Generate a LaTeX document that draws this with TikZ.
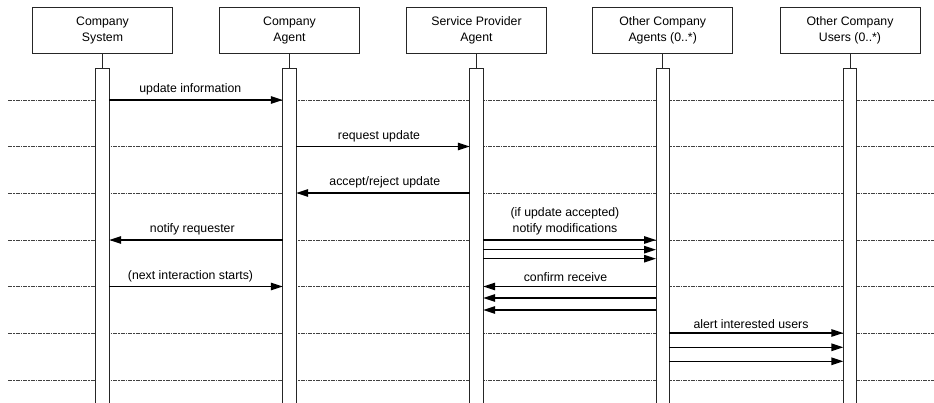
\documentclass[tikz,border=0pt]{standalone}
\usepackage{fontspec}
\setmainfont{Liberation Sans}
\usetikzlibrary{arrows.meta}

\tikzset{
  actor/.style={draw=black!85, line width=0.9pt, fill=white, minimum width=140pt,
    minimum height=46pt, inner sep=0pt, align=center,
    font=\fontsize{12.3}{16}\selectfont},
  barnode/.style={fill=white, minimum width=13pt, minimum height=340pt, inner sep=0pt,
    anchor=north},
  barline/.style={draw=black!85, line width=0.9pt},
  life/.style={draw=black!85, line width=0.9pt},
  sep/.style={draw=black!75, line width=0.8pt, dash pattern=on 4pt off 1pt on 1.5pt off 1pt},
  msg/.style={draw=black, line width=1.4pt, -{Triangle[length=12pt,width=7.5pt]}},
  lbl/.style={inner sep=0pt, align=center, font=\fontsize{12.3}{16}\selectfont},
}

\begin{document}
\begin{tikzpicture}[x=1pt,y=-1pt]
\useasboundingbox (0,0) rectangle (934,402);

% dash-dot separators behind the activation bars
\foreach \yy in {100,146.5,193,240,286.5,333,380}
  \draw[sep] (8,\yy) -- (934,\yy);

% participants
\node[actor] (p1) at (102.5,30) {Company\\System};
\node[actor] (p2) at (289.5,30) {Company\\Agent};
\node[actor] (p3) at (476.5,30) {Service Provider\\Agent};
\node[actor] (p4) at (662.7,30) {Other Company\\Agents (0..*)};
\node[actor] (p5) at (850,30) {Other Company\\Users (0..*)};

% activation bars, open at the bottom
\foreach \i/\cx in {1/102.5,2/289.5,3/476.5,4/662.7,5/850}{
  \node[barnode] (b\i) at (\cx,68) {};
  \draw[life] (p\i.south) -- (b\i.north);
  \draw[barline] (b\i.south west) -- (b\i.north west) -- (b\i.north east) -- (b\i.south east);
}

% messages
\draw[msg] (b1.east |- 0,100) -- (b2.west |- 0,100);
\node[lbl, anchor=south] (m1) at (190.3,95.5) {update information};

\draw[msg] (b2.east |- 0,146.5) -- (b3.west |- 0,146.5);
\node[lbl, anchor=south] (m2) at (379,142) {request update};

\draw[msg] (b3.west |- 0,193) -- (b2.east |- 0,193);
\node[lbl, anchor=south] (m3) at (384.8,188.5) {accept/reject update};

\draw[msg] (b2.west |- 0,240) -- (b1.east |- 0,240);
\node[lbl, anchor=south] (m4) at (192.3,235.5) {notify requester};

\draw[msg] (b3.east |- 0,240) -- (b4.west |- 0,240);
\draw[msg] (b3.east |- 0,249.7) -- (b4.west |- 0,249.7);
\draw[msg] (b3.east |- 0,258.7) -- (b4.west |- 0,258.7);
\node[lbl, anchor=south] (m5) at (565,235.5) {(if update accepted)\\notify modifications};

\draw[msg] (b1.east |- 0,286.5) -- (b2.west |- 0,286.5);
\node[lbl, anchor=south] (m6) at (190.5,282) {(next interaction starts)};

\draw[msg] (b4.west |- 0,286.5) -- (b3.east |- 0,286.5);
\draw[msg] (b4.west |- 0,298) -- (b3.east |- 0,298);
\draw[msg] (b4.west |- 0,310) -- (b3.east |- 0,310);
\node[lbl, anchor=south] (m7) at (565.5,282) {confirm receive};

\draw[msg] (b4.east |- 0,333) -- (b5.west |- 0,333);
\draw[msg] (b4.east |- 0,347.3) -- (b5.west |- 0,347.3);
\draw[msg] (b4.east |- 0,361.3) -- (b5.west |- 0,361.3);
\node[lbl, anchor=south] (m8) at (751,328.5) {alert interested users};
\end{tikzpicture}
\end{document}
